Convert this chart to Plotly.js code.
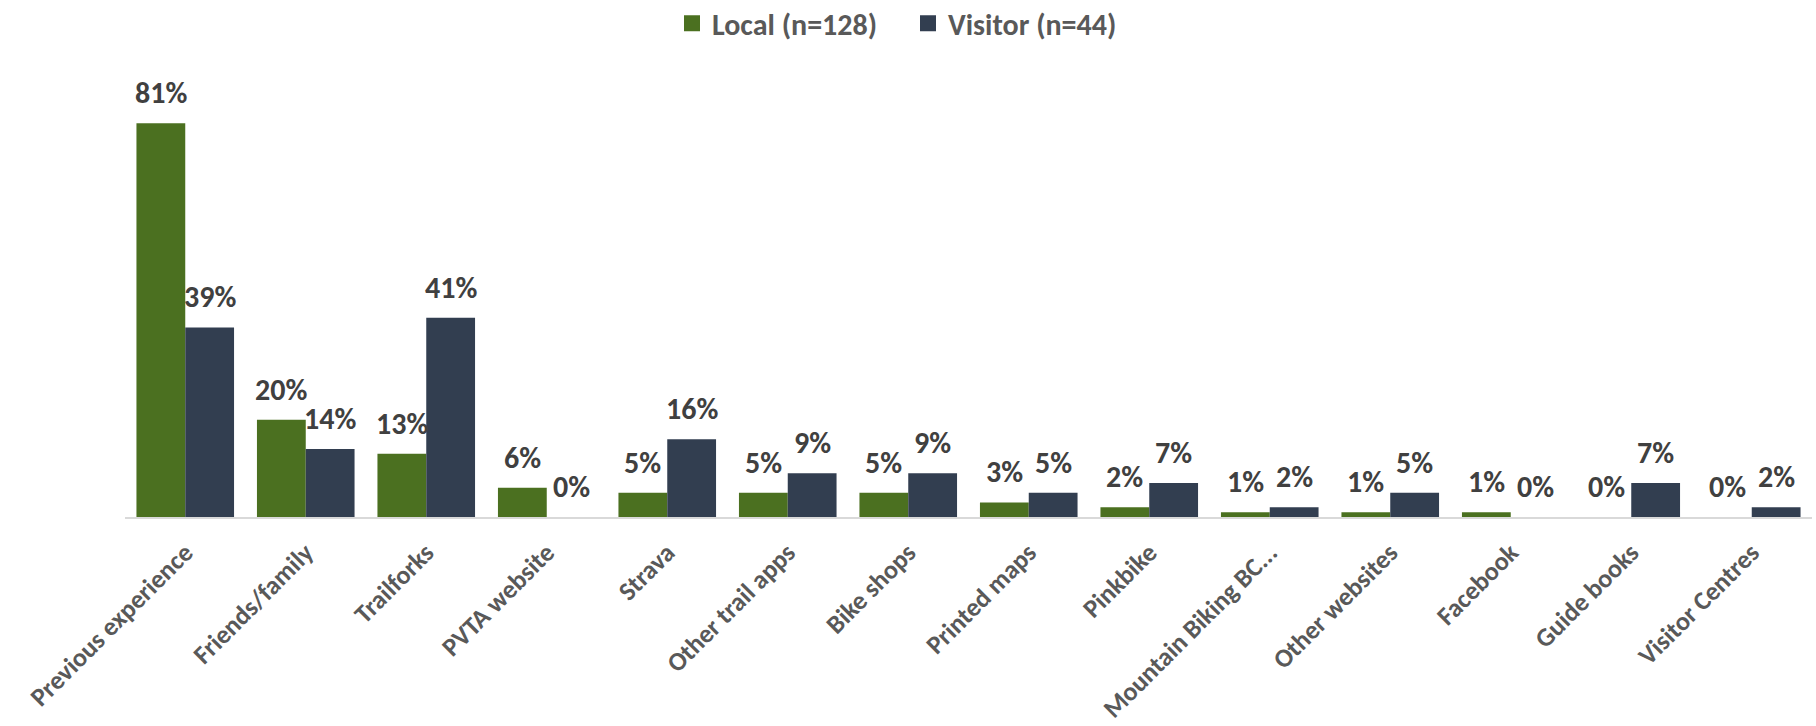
<!DOCTYPE html>
<html>
<head>
<meta charset="utf-8">
<script src="https://cdn.plot.ly/plotly-3.0.1.min.js"></script>
<style>html,body{margin:0;padding:0;background:#fff;}#chart{width:1816px;height:726px;}</style>
</head>
<body>
<div id="chart"></div>
<script>
const categories = ["Previous experience","Friends/family","Trailforks","PVTA website","Strava","Other trail apps","Bike shops","Printed maps","Pinkbike","Mountain Biking BC...","Other websites","Facebook","Guide books","Visitor Centres"];
const localValues = [81, 20, 13, 6, 5, 5, 5, 3, 2, 1, 1, 1, 0, 0];
const visitorValues = [39, 14, 41, 0, 16, 9, 9, 5, 7, 2, 5, 0, 7, 2];
const seriesNames = ["Local (n=128)", "Visitor (n=44)"];

const FONT = "Carlito, Lato, 'Open Sans', sans-serif";
const GREEN = "#4b7020";
const NAVY = "#323e50";
const COLORS = [GREEN, NAVY];

const traces = [
  {type:"bar", name:seriesNames[0], x:categories, y:localValues, marker:{color:GREEN}, hoverinfo:"none", showlegend:false},
  {type:"bar", name:seriesNames[1], x:categories, y:visitorValues, marker:{color:NAVY}, hoverinfo:"none", showlegend:false}
];
// legend-only square markers
seriesNames.forEach((n, s) => {
  traces.push({type:"scatter", mode:"markers", name:n, x:[null], y:[null],
    marker:{symbol:"square", size:18, color:COLORS[s]}, hoverinfo:"none", showlegend:true});
});

const annotations = [];
const half = 24.5;
[localValues, visitorValues].forEach((vals, s) => {
  vals.forEach((v, i) => {
    annotations.push({
      x: categories[i], y: v, xref:"x", yref:"y",
      text: v + "%", showarrow:false,
      xanchor:"center", yanchor:"bottom",
      xshift: s === 0 ? -half : half, yshift: 10,
      font:{family:FONT, size:30, color:"#404040", weight:"bold"}
    });
  });
});

const layout = {
  width:1816, height:726,
  margin:{l:125, r:4, t:10, b:209, autoexpand:false},
  paper_bgcolor:"#fff", plot_bgcolor:"#fff",
  barmode:"group", bargap:0.19, bargroupgap:0,
  showlegend:true,
  legend:{orientation:"h", xref:"container", yref:"container", x:0.5, xanchor:"center", y:0.968, yanchor:"middle",
          font:{family:FONT, size:30, color:"#595959", weight:"bold"}, itemwidth:30, traceorder:"normal",
          entrywidth:191, bgcolor:"rgba(0,0,0,0)"},
  xaxis:{type:"category", tickangle:-45, showline:true, linecolor:"#d9d9d9", linewidth:2,
         ticks:"", showgrid:false, ticklabelstandoff:8, range:[-0.5, categories.length-0.5],
         tickfont:{family:FONT, size:26, color:"#595959", weight:"bold"}},
  yaxis:{range:[0,104.3], visible:false, showgrid:false, zeroline:false},
  annotations:annotations
};

Plotly.newPlot("chart", traces, layout, {displayModeBar:false, staticPlot:true});
</script>
</body>
</html>
